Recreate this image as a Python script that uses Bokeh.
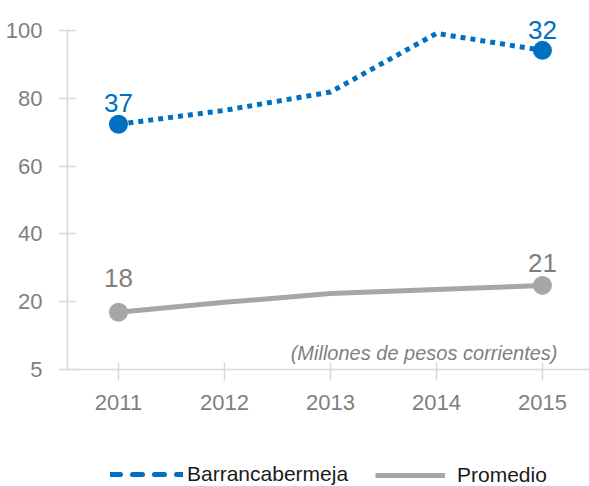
from bokeh.plotting import figure
from bokeh.layouts import column
from bokeh.models import Range1d, FixedTicker, Legend, LegendItem, Label
from bokeh.core.properties import value
from bokeh.embed import file_html
from bokeh.resources import INLINE

# ---- data ----
years = [2011, 2012, 2013, 2014, 2015]
barranca = [72.3, 76.4, 81.8, 99.1, 94.1]
promedio = [16.9, 19.8, 22.4, 23.6, 24.8]
label_years = [2011, 2015]
barranca_labels = ["37", "32"]
promedio_labels = ["18", "21"]
y_ticks = [0, 20, 40, 60, 80, 100]
y_tick_labels = ["5", "20", "40", "60", "80", "100"]
series_names = ["Barrancabermeja", "Promedio"]
note = "(Millones de pesos corrientes)"

# ---- styles ----
FONT = "Liberation Sans"
BLUE = "#0070C0"
GRAY_LINE = "#A6A6A6"
TEXT_GRAY = "#7F7F7F"
AXIS = "#D9D9D9"
barranca_label_offsets = [-21, -20]
promedio_label_offsets = [-34, -22]

p = figure(width=589, height=446, output_backend="svg", toolbar_location=None,
           x_range=Range1d(2010.519, 2015.444), y_range=Range1d(0, 108.8),
           min_border_left=67, min_border_right=0, min_border_top=0,
           min_border_bottom=77)
p.outline_line_color = None
p.grid.visible = False
p.background_fill_color = "white"
p.border_fill_color = "white"

# axes
xa = p.xaxis[0]
xa.ticker = FixedTicker(ticks=years)
xa.major_label_overrides = {y: str(y) for y in years}
xa.bounds = (2010.415, 2015.444)
xa.axis_line_color = AXIS
xa.axis_line_width = 1.5
xa.major_tick_line_color = AXIS
xa.major_tick_line_width = 1.5
xa.major_tick_in = 7
xa.major_tick_out = 11
xa.minor_tick_line_color = None
xa.major_label_standoff = 14
xa.major_label_text_font = FONT
xa.major_label_text_font_size = "22px"
xa.major_label_text_color = TEXT_GRAY

ya = p.yaxis[0]
ya.ticker = FixedTicker(ticks=y_ticks)
ya.major_label_overrides = dict(zip(y_ticks, y_tick_labels))
ya.bounds = (-4.5, 100)
ya.axis_line_color = AXIS
ya.axis_line_width = 1.5
ya.major_tick_line_color = AXIS
ya.major_tick_line_width = 1.5
ya.major_tick_in = 8
ya.major_tick_out = 9
ya.minor_tick_line_color = None
ya.major_label_standoff = 16
ya.major_label_text_font = FONT
ya.major_label_text_font_size = "22px"
ya.major_label_text_color = TEXT_GRAY

# series
p.line(years, promedio, line_color=GRAY_LINE, line_width=5)
p.scatter([years[0], years[-1]], [promedio[0], promedio[-1]], size=19,
          fill_color=GRAY_LINE, line_color=None)
p.line(years, barranca, line_color=BLUE, line_width=5, line_dash="5 5")
p.scatter([years[0], years[-1]], [barranca[0], barranca[-1]], size=19,
          fill_color=BLUE, line_color=None)

p.text(x=label_years, y=[barranca[years.index(y)] for y in label_years],
       text=barranca_labels, text_align="center", text_baseline="alphabetic",
       y_offset=barranca_label_offsets, text_font=value(FONT),
       text_font_size="26px", text_color=BLUE)
p.text(x=label_years, y=[promedio[years.index(y)] for y in label_years],
       text=promedio_labels, text_align="center", text_baseline="alphabetic",
       y_offset=promedio_label_offsets, text_font=value(FONT),
       text_font_size="26px", text_color=TEXT_GRAY)

p.add_layout(Label(x=2015.142, y=4.72, text=note, text_align="right",
                   text_baseline="alphabetic", text_font=FONT,
                   text_font_style="italic", text_font_size="20px",
                   text_color=TEXT_GRAY))

# legend strip (separate small figure below the chart)
lf = figure(width=589, height=40, output_backend="svg", toolbar_location=None,
            x_range=Range1d(0, 1), y_range=Range1d(0, 1),
            x_axis_type=None, y_axis_type=None,
            min_border_left=0, min_border_right=0, min_border_top=0,
            min_border_bottom=0)
lf.outline_line_color = None
lf.grid.visible = False

nan = float("nan")
leg_b = lf.line([nan], [nan], line_color=BLUE, line_width=5,
                line_dash="10 12", line_cap="round")
leg_p = lf.line([nan], [nan], line_color=GRAY_LINE, line_width=5)

common = dict(orientation="horizontal", padding=0, margin=0, spacing=0,
              border_line_color=None, background_fill_alpha=0,
              label_text_font=FONT, label_text_font_size="21px",
              label_text_color="#1a1a1a", label_height=20, glyph_height=20)
lb = Legend(items=[LegendItem(label=series_names[0], renderers=[leg_b])],
            location=(43, 0), glyph_width=73, label_standoff=4, **common)
lp = Legend(items=[LegendItem(label=series_names[1], renderers=[leg_p])],
            location=(308, -1), glyph_width=70, label_standoff=12, **common)
lf.add_layout(lb)
lf.add_layout(lp)

layout = column(p, lf, spacing=0)
open("out.html", "w").write(file_html(layout, INLINE))
